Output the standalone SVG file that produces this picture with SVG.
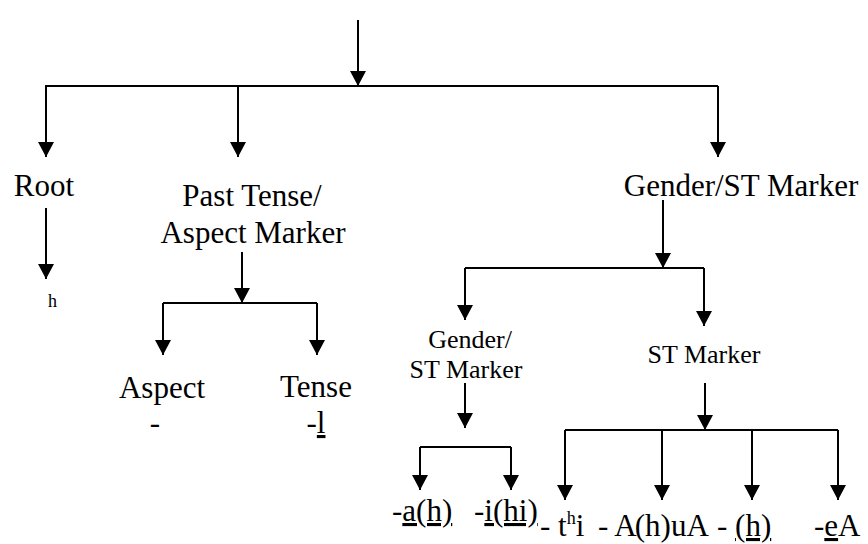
<svg xmlns="http://www.w3.org/2000/svg" width="868" height="544" viewBox="0 0 868 544">
<defs>
<marker id="ah" viewBox="0 0 15 16" refX="15" refY="8" markerWidth="15" markerHeight="16" markerUnits="userSpaceOnUse" orient="auto">
<path d="M0,0 L15,8 L0,16 Z" fill="#000"/>
</marker>
</defs>
<rect width="868" height="544" fill="#fff"/>
<g id="connectors" fill="none" stroke="#000" stroke-width="2">
<path d="M358 20 V86" marker-end="url(#ah)"/>
<path d="M45 86 H718"/>
<path d="M46 86 V157" marker-end="url(#ah)"/>
<path d="M238 86 V157" marker-end="url(#ah)"/>
<path d="M718 86 V157" marker-end="url(#ah)"/>
<path d="M46 208 V279" marker-end="url(#ah)"/>
<path d="M242 252 V303" marker-end="url(#ah)"/>
<path d="M163 303 H317"/>
<path d="M163 303 V355" marker-end="url(#ah)"/>
<path d="M317 303 V355" marker-end="url(#ah)"/>
<path d="M663 200 V268" marker-end="url(#ah)"/>
<path d="M465 268 H704"/>
<path d="M465 268 V320" marker-end="url(#ah)"/>
<path d="M704 268 V326" marker-end="url(#ah)"/>
<path d="M465 383 V428" marker-end="url(#ah)"/>
<path d="M420 447 H511"/>
<path d="M420 447 V490" marker-end="url(#ah)"/>
<path d="M511 447 V490" marker-end="url(#ah)"/>
<path d="M705 383 V430" marker-end="url(#ah)"/>
<path d="M565 430 H838"/>
<path d="M565 430 V500" marker-end="url(#ah)"/>
<path d="M662 430 V500" marker-end="url(#ah)"/>
<path d="M752 430 V500" marker-end="url(#ah)"/>
<path d="M838 430 V500" marker-end="url(#ah)"/>
</g>
<g font-family="'Liberation Serif', serif" font-size="31" fill="#000">
<g id="root"><text text-anchor="middle" x="44" y="196">Root</text></g>
<g id="root-h"><text font-size="18" x="48" y="307">h</text></g>
<g id="past-tense"><text text-anchor="middle" x="252" y="206">Past Tense/</text><text text-anchor="middle" x="253" y="243">Aspect Marker</text></g>
<g id="gender-st"><text text-anchor="middle" x="741" y="196">Gender/ST Marker</text></g>
<g id="aspect"><text text-anchor="middle" x="162" y="398">Aspect</text><text text-anchor="middle" x="155" y="433">-</text></g>
<g id="tense"><text text-anchor="middle" x="316" y="397">Tense</text><text text-anchor="middle" x="316" y="433">-<tspan text-decoration="underline">l</tspan></text></g>
<g id="gender-st-2"><text font-size="26" text-anchor="middle" x="470" y="348">Gender/</text><text font-size="26" text-anchor="middle" x="466" y="378">ST Marker</text></g>
<g id="st-marker"><text font-size="26" text-anchor="middle" x="704" y="363">ST Marker</text></g>
<g id="leaf-ah"><text x="392" y="521">-<tspan text-decoration="underline">a(h)</tspan></text></g>
<g id="leaf-ihi"><text x="474" y="521">-<tspan text-decoration="underline">i(hi)</tspan></text></g>
<g id="leaf-thi"><text x="540" y="536">-  t<tspan font-size="18" dy="-12">h</tspan><tspan dy="12">i</tspan></text></g>
<g id="leaf-ahua"><text x="598" y="536">-  A<tspan dx="-2">(h)uA</tspan></text></g>
<g id="leaf-h"><text x="717" y="536">-  <tspan text-decoration="underline">(h)</tspan></text></g>
<g id="leaf-ea"><text x="814" y="536">-<tspan text-decoration="underline">e</tspan>A</text></g>
</g>
</svg>
